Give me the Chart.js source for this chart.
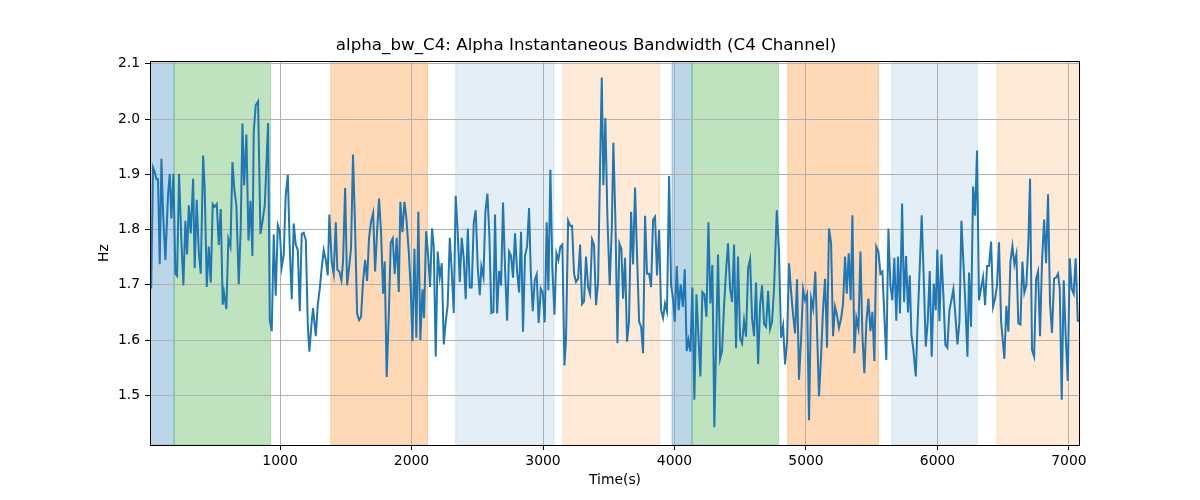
<!DOCTYPE html>
<html>
<head>
<meta charset="utf-8">
<script src="https://cdn.jsdelivr.net/npm/chart.js@4.4.1/dist/chart.umd.min.js"></script>
<style>
  html, body { margin: 0; padding: 0; background: #fff; }
  #wrap { width: 1200px; height: 500px; }
</style>
</head>
<body>
<div id="wrap"><canvas id="chart" width="1200" height="500"></canvas></div>
<script>
// === alpha_bw_C4: Alpha Instantaneous Bandwidth (C4 Channel) ===

// time stamps (s)
const times = [
  11, 20, 34, 47, 60, 72, 85, 98, 110, 128, 148, 161, 174, 189, 204, 217, 232, 250, 265, 280,
  293, 306, 321, 339, 351, 366, 382, 397, 415, 427, 443, 458, 473, 488, 503, 519, 534, 549, 564, 574,
  592, 607, 623, 638, 653, 668, 686, 701, 714, 727, 744, 760, 775, 790, 800, 815, 833, 851, 866, 884,
  909, 922, 937, 952, 967, 983, 998, 1013, 1028, 1043, 1059, 1074, 1089, 1104, 1119, 1135, 1150, 1165, 1180, 1196,
  1211, 1223, 1239, 1251, 1272, 1287, 1302, 1317, 1332, 1348, 1363, 1375, 1393, 1408, 1424, 1436, 1451, 1467, 1479, 1495,
  1510, 1525, 1540, 1555, 1571, 1586, 1601, 1616, 1631, 1647, 1662, 1677, 1692, 1708, 1723, 1738, 1753, 1768, 1784, 1796,
  1811, 1827, 1842, 1857, 1872, 1887, 1903, 1915, 1931, 1946, 1961, 1979, 1994, 2007, 2022, 2037, 2052, 2067, 2083, 2095,
  2111, 2126, 2141, 2156, 2169, 2184, 2199, 2215, 2230, 2245, 2260, 2275, 2291, 2306, 2321, 2336, 2351, 2367, 2382, 2397,
  2412, 2428, 2443, 2458, 2473, 2488, 2504, 2519, 2531, 2547, 2562, 2577, 2592, 2607, 2623, 2635, 2651, 2666, 2681, 2696,
  2711, 2727, 2742, 2757, 2772, 2787, 2803, 2818, 2833, 2848, 2863, 2879, 2894, 2907, 2922, 2937, 2952, 2967, 2983, 2998,
  3013, 3028, 3041, 3056, 3071, 3087, 3102, 3117, 3132, 3147, 3163, 3175, 3191, 3206, 3221, 3236, 3251, 3267, 3282, 3297,
  3312, 3327, 3343, 3358, 3373, 3388, 3403, 3419, 3434, 3447, 3459, 3474, 3490, 3507, 3523, 3535, 3551, 3566, 3581, 3596,
  3609, 3624, 3639, 3654, 3670, 3685, 3700, 3715, 3731, 3746, 3761, 3776, 3791, 3807, 3822, 3837, 3852, 3867, 3883, 3898,
  3913, 3928, 3943, 3959, 3974, 3989, 4002, 4017, 4032, 4047, 4063, 4078, 4093, 4106, 4121, 4136, 4151, 4167, 4182, 4197,
  4212, 4227, 4243, 4258, 4273, 4288, 4303, 4331, 4347, 4362, 4377, 4392, 4407, 4423, 4438, 4453, 4468, 4483, 4499, 4514,
  4529, 4544, 4560, 4575, 4590, 4605, 4620, 4636, 4651, 4666, 4681, 4696, 4712, 4727, 4742, 4757, 4778, 4795, 4810, 4826,
  4841, 4856, 4871, 4887, 4902, 4917, 4932, 4947, 4963, 4978, 4993, 5008, 5023, 5039, 5054, 5071, 5099, 5115, 5130, 5145,
  5160, 5175, 5191, 5206, 5221, 5236, 5251, 5267, 5282, 5297, 5310, 5325, 5340, 5353, 5368, 5383, 5399, 5414, 5429, 5444,
  5459, 5475, 5490, 5505, 5520, 5535, 5551, 5566, 5581, 5596, 5611, 5627, 5642, 5657, 5672, 5687, 5700, 5715, 5731, 5746,
  5761, 5776, 5789, 5802, 5817, 5835, 5850, 5865, 5880, 5895, 5911, 5926, 5941, 5956, 5972, 5987, 5999, 6015, 6030, 6045,
  6060, 6075, 6091, 6106, 6121, 6136, 6152, 6167, 6182, 6197, 6212, 6228, 6240, 6255, 6271, 6286, 6301, 6316, 6331, 6347,
  6362, 6377, 6392, 6408, 6423, 6438, 6453, 6468, 6484, 6509, 6524, 6539, 6555, 6570, 6585, 6600, 6615, 6631, 6646, 6661,
  6676, 6691, 6704, 6719, 6735, 6750, 6765, 6780, 6795, 6811, 6826, 6841, 6856, 6871, 6887, 6902, 6917, 6930, 6945, 6960,
  6975, 6991, 7006, 7021, 7036, 7051, 7067, 7082
];

// bandwidth values (Hz)
const hz = [
  1.790, 1.693, 1.912, 1.904, 1.891, 1.891, 1.737, 1.928, 1.832, 1.745, 1.862, 1.901, 1.820, 1.901, 1.720, 1.716, 1.901, 1.778, 1.699, 1.816,
  1.755, 1.844, 1.793, 1.892, 1.730, 1.854, 1.760, 1.720, 1.934, 1.874, 1.696, 1.769, 1.704, 1.846, 1.841, 1.846, 1.772, 1.837, 1.664, 1.686,
  1.656, 1.783, 1.769, 1.922, 1.871, 1.844, 1.701, 1.802, 1.992, 1.880, 1.972, 1.780, 1.852, 1.752, 1.977, 2.025, 2.032, 1.792, 1.814, 1.844,
  1.993, 1.636, 1.616, 1.791, 1.680, 1.808, 1.797, 1.732, 1.754, 1.862, 1.899, 1.766, 1.674, 1.811, 1.773, 1.763, 1.652, 1.792, 1.794, 1.781,
  1.628, 1.579, 1.628, 1.658, 1.607, 1.664, 1.693, 1.730, 1.763, 1.745, 1.717, 1.827, 1.742, 1.720, 1.813, 1.727, 1.724, 1.708, 1.742, 1.875,
  1.699, 1.730, 1.767, 1.936, 1.802, 1.648, 1.636, 1.642, 1.705, 1.745, 1.707, 1.785, 1.814, 1.830, 1.724, 1.796, 1.856, 1.796, 1.684, 1.742,
  1.533, 1.645, 1.776, 1.784, 1.719, 1.785, 1.687, 1.850, 1.795, 1.850, 1.820, 1.760, 1.693, 1.598, 1.765, 1.604, 1.832, 1.600, 1.692, 1.640,
  1.797, 1.754, 1.696, 1.802, 1.769, 1.570, 1.760, 1.714, 1.739, 1.592, 1.633, 1.663, 1.785, 1.724, 1.649, 1.861, 1.796, 1.705, 1.785, 1.748,
  1.674, 1.802, 1.695, 1.695, 1.811, 1.835, 1.730, 1.681, 1.733, 1.714, 1.832, 1.865, 1.790, 1.649, 1.651, 1.827, 1.648, 1.725, 1.699, 1.849,
  1.730, 1.635, 1.760, 1.752, 1.713, 1.793, 1.724, 1.686, 1.796, 1.615, 1.752, 1.770, 1.839, 1.724, 1.652, 1.708, 1.719, 1.631, 1.693, 1.686,
  1.632, 1.813, 1.690, 1.908, 1.730, 1.646, 1.757, 1.745, 1.769, 1.773, 1.554, 1.603, 1.816, 1.807, 1.807, 1.720, 1.705, 1.711, 1.773, 1.665,
  1.670, 1.751, 1.696, 1.683, 1.782, 1.772, 1.663, 1.705, 1.916, 2.075, 1.880, 2.002, 1.820, 1.699, 1.802, 1.957, 1.814, 1.594, 1.775, 1.765,
  1.675, 1.749, 1.597, 1.633, 1.832, 1.737, 1.876, 1.754, 1.633, 1.624, 1.576, 1.825, 1.720, 1.720, 1.696, 1.817, 1.823, 1.717, 1.799, 1.654,
  1.640, 1.666, 1.652, 1.897, 1.699, 1.675, 1.633, 1.734, 1.654, 1.701, 1.660, 1.728, 1.580, 1.600, 1.579, 1.695, 1.492, 1.683, 1.606, 1.534,
  1.687, 1.683, 1.642, 1.813, 1.666, 1.736, 1.442, 1.755, 1.566, 1.580, 1.663, 1.724, 1.775, 1.693, 1.669, 1.773, 1.585, 1.751, 1.603, 1.594,
  1.635, 1.606, 1.730, 1.746, 1.639, 1.607, 1.704, 1.556, 1.663, 1.699, 1.629, 1.624, 1.689, 1.620, 1.633, 1.693, 1.835, 1.760, 1.604, 1.626,
  1.556, 1.597, 1.739, 1.687, 1.645, 1.612, 1.710, 1.528, 1.603, 1.692, 1.672, 1.683, 1.455, 1.675, 1.657, 1.724, 1.498, 1.573, 1.657, 1.711,
  1.586, 1.802, 1.775, 1.607, 1.660, 1.645, 1.622, 1.639, 1.666, 1.751, 1.684, 1.757, 1.672, 1.826, 1.576, 1.640, 1.621, 1.760, 1.609, 1.540,
  1.631, 1.675, 1.616, 1.651, 1.562, 1.769, 1.760, 1.720, 1.724, 1.645, 1.564, 1.802, 1.699, 1.672, 1.749, 1.635, 1.751, 1.648, 1.847, 1.669,
  1.752, 1.650, 1.717, 1.609, 1.582, 1.534, 1.639, 1.730, 1.826, 1.717, 1.588, 1.633, 1.725, 1.570, 1.702, 1.654, 1.764, 1.634, 1.755, 1.681,
  1.591, 1.586, 1.654, 1.672, 1.692, 1.645, 1.592, 1.633, 1.816, 1.742, 1.666, 1.570, 1.722, 1.624, 1.878, 1.825, 1.943, 1.672, 1.693, 1.714,
  1.663, 1.734, 1.734, 1.778, 1.660, 1.675, 1.699, 1.777, 1.633, 1.566, 1.662, 1.615, 1.742, 1.770, 1.737, 1.755, 1.630, 1.628, 1.742, 1.686,
  1.699, 1.775, 1.892, 1.582, 1.570, 1.710, 1.724, 1.607, 1.742, 1.818, 1.739, 1.864, 1.666, 1.613, 1.711, 1.713, 1.720, 1.693, 1.492, 1.708,
  1.609, 1.526, 1.748, 1.693, 1.684, 1.748, 1.635, 1.635
];

// shaded stage intervals (s)
const spanStart = [11, 194, 1386, 2336, 3150, 3981, 4133, 4861, 5652, 6450];
const spanEnd   = [194, 927, 2121, 3082, 3887, 4133, 4790, 5551, 6304, 7100];
const spanColor = [
  'rgba(31,119,180,0.3)', 'rgba(44,160,44,0.3)', 'rgba(255,127,14,0.3)', 'rgba(31,119,180,0.12)', 'rgba(255,127,14,0.16)',
  'rgba(31,119,180,0.3)', 'rgba(44,160,44,0.3)', 'rgba(255,127,14,0.3)', 'rgba(31,119,180,0.12)', 'rgba(255,127,14,0.16)'
];

const xTicks = [1000, 2000, 3000, 4000, 5000, 6000, 7000];
const yTicks = [1.5, 1.6, 1.7, 1.8, 1.9, 2.0, 2.1];
const xMin = 11, xMax = 7084;
const yMin = 1.41, yMax = 2.105;

const FONT = "'DejaVu Sans', sans-serif";

// shaded spans under the grid
const spanPlugin = {
  id: 'spans',
  beforeDraw(chart) {
    const { ctx, chartArea: a, scales: { x } } = chart;
    ctx.save();
    ctx.beginPath();
    ctx.rect(a.left, a.top, a.right - a.left, a.bottom - a.top);
    ctx.clip();
    spanStart.forEach((s, i) => {
      const x0 = x.getPixelForValue(s);
      const x1 = x.getPixelForValue(spanEnd[i]);
      ctx.fillStyle = spanColor[i];
      ctx.fillRect(x0, a.top, x1 - x0, a.bottom - a.top);
      ctx.strokeStyle = spanColor[i];
      ctx.lineWidth = 1;
      ctx.strokeRect(x0, a.top, x1 - x0, a.bottom - a.top);
    });
    ctx.restore();
  }
};

// black frame round the plot
const framePlugin = {
  id: 'frame',
  afterDatasetsDraw(chart) {
    const { ctx, chartArea: a } = chart;
    ctx.save();
    ctx.strokeStyle = '#000';
    ctx.lineWidth = 1;
    ctx.strokeRect(Math.round(a.left) + 0.5, Math.round(a.top) + 0.5,
      Math.round(a.right - a.left) - 1, Math.round(a.bottom - a.top));
    ctx.restore();
  }
};

new Chart(document.getElementById('chart'), {
  type: 'line',
  data: {
    datasets: [{
      data: times.map((t, i) => ({ x: t, y: hz[i] })),
      borderColor: '#1f77b4',
      borderWidth: 2,
      pointRadius: 0,
      tension: 0,
      fill: false
    }]
  },
  options: {
    responsive: false,
    animation: false,
    devicePixelRatio: 1,
    layout: { padding: { left: 92, right: 120, top: 0, bottom: 7 } },
    plugins: {
      legend: { display: false },
      tooltip: { enabled: false },
      title: {
        display: true,
        text: 'alpha_bw_C4: Alpha Instantaneous Bandwidth (C4 Channel)',
        color: '#000',
        font: { family: FONT, size: 16.7, weight: 'normal', lineHeight: 1.2 },
        padding: { top: 36, bottom: 5 }
      }
    },
    scales: {
      x: {
        type: 'linear',
        min: xMin,
        max: xMax,
        afterBuildTicks: s => { s.ticks = xTicks.map(v => ({ value: v })); },
        afterFit: s => { s.height = 48; },
        border: { display: false },
        grid: { color: '#b0b0b0', lineWidth: 1, drawTicks: true, tickLength: 5, tickColor: '#000' },
        ticks: {
          color: '#000', padding: 3, maxRotation: 0,
          font: { family: FONT, size: 13.9 },
          callback: v => String(v)
        },
        title: {
          display: true, text: 'Time(s)', color: '#000',
          font: { family: FONT, size: 13.9, lineHeight: 1.2 },
          padding: { top: 0, bottom: 4 }
        }
      },
      y: {
        type: 'linear',
        min: yMin,
        max: yMax,
        afterBuildTicks: s => { s.ticks = yTicks.map(v => ({ value: v })); },
        afterFit: s => { s.width = 58; },
        border: { display: false },
        grid: { color: '#b0b0b0', lineWidth: 1, drawTicks: true, tickLength: 5, tickColor: '#000' },
        ticks: {
          color: '#000', padding: 5,
          font: { family: FONT, size: 13.9 },
          callback: v => v.toFixed(1)
        },
        title: {
          display: true, text: 'Hz', color: '#000',
          font: { family: FONT, size: 13.9, lineHeight: 1.2 },
          padding: { top: 4, bottom: 0 }
        }
      }
    }
  },
  plugins: [spanPlugin, framePlugin]
});
</script>
</body>
</html>
